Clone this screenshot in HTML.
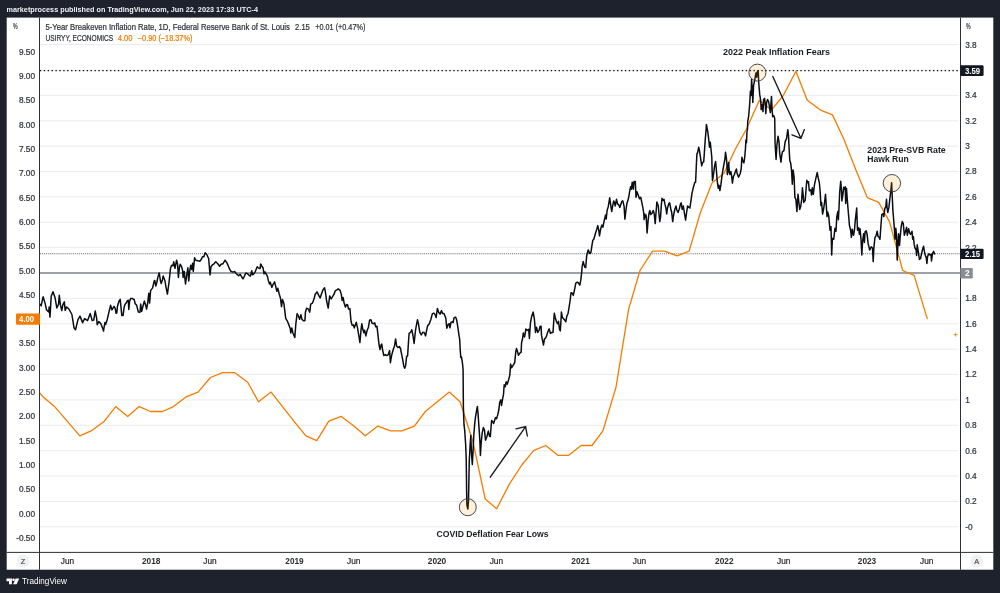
<!DOCTYPE html><html><head><meta charset="utf-8"><title>TradingView chart</title>
<style>html,body{margin:0;padding:0;background:#1e222d;overflow:hidden}svg{display:block;will-change:transform}text{font-family:"Liberation Sans",sans-serif}</style></head><body>
<svg width="1000" height="593" viewBox="0 0 1000 593">
<rect x="0" y="0" width="1000" height="593" fill="#1e222d"/>
<rect x="6.7" y="17.6" width="986.6" height="552.1" fill="#ffffff"/>
<defs><clipPath id="pane"><rect x="40.0" y="17.6" width="920.0" height="534.8"/></clipPath></defs>
<line x1="40.0" x2="958.5" y1="526.80" y2="526.80" stroke="#ebebeb" stroke-width="1"/>
<line x1="40.0" x2="958.5" y1="501.42" y2="501.42" stroke="#ebebeb" stroke-width="1"/>
<line x1="40.0" x2="958.5" y1="476.04" y2="476.04" stroke="#ebebeb" stroke-width="1"/>
<line x1="40.0" x2="958.5" y1="450.67" y2="450.67" stroke="#ebebeb" stroke-width="1"/>
<line x1="40.0" x2="958.5" y1="425.29" y2="425.29" stroke="#ebebeb" stroke-width="1"/>
<line x1="40.0" x2="958.5" y1="399.91" y2="399.91" stroke="#ebebeb" stroke-width="1"/>
<line x1="40.0" x2="958.5" y1="374.53" y2="374.53" stroke="#ebebeb" stroke-width="1"/>
<line x1="40.0" x2="958.5" y1="349.15" y2="349.15" stroke="#ebebeb" stroke-width="1"/>
<line x1="40.0" x2="958.5" y1="323.78" y2="323.78" stroke="#ebebeb" stroke-width="1"/>
<line x1="40.0" x2="958.5" y1="298.40" y2="298.40" stroke="#ebebeb" stroke-width="1"/>
<line x1="40.0" x2="958.5" y1="273.02" y2="273.02" stroke="#ebebeb" stroke-width="1"/>
<line x1="40.0" x2="958.5" y1="247.64" y2="247.64" stroke="#ebebeb" stroke-width="1"/>
<line x1="40.0" x2="958.5" y1="222.26" y2="222.26" stroke="#ebebeb" stroke-width="1"/>
<line x1="40.0" x2="958.5" y1="196.89" y2="196.89" stroke="#ebebeb" stroke-width="1"/>
<line x1="40.0" x2="958.5" y1="171.51" y2="171.51" stroke="#ebebeb" stroke-width="1"/>
<line x1="40.0" x2="958.5" y1="146.13" y2="146.13" stroke="#ebebeb" stroke-width="1"/>
<line x1="40.0" x2="958.5" y1="120.75" y2="120.75" stroke="#ebebeb" stroke-width="1"/>
<line x1="40.0" x2="958.5" y1="95.37" y2="95.37" stroke="#ebebeb" stroke-width="1"/>
<line x1="40.0" x2="958.5" y1="70.00" y2="70.00" stroke="#ebebeb" stroke-width="1"/>
<line x1="40.0" x2="958.5" y1="44.62" y2="44.62" stroke="#ebebeb" stroke-width="1"/>
<line x1="40.0" x2="960.5" y1="272.95" y2="272.95" stroke="#80838c" stroke-width="1.5"/>
<line x1="40.1" x2="960.5" y1="253.7" y2="253.7" stroke="#5d616b" stroke-width="1.1" stroke-dasharray="0.95 1"/>
<line x1="39.85" x2="960.5" y1="70.6" y2="70.6" stroke="#0e1016" stroke-width="1.35" stroke-dasharray="1.4 2.5"/>
<g clip-path="url(#pane)"><polyline points="19.2,392.1 30.1,382.3 43.2,396.9 54.6,406.6 67.2,421.2 79.8,435.8 91.2,430.9 104.3,421.2 115.7,406.6 127.7,416.4 139.1,406.6 150.6,411.5 162.6,411.5 173.4,406.6 186.0,396.9 198.0,392.1 210.5,377.5 222.5,372.6 234.5,372.6 247.7,382.3 258.5,401.8 271.1,392.1 282.5,406.6 293.9,421.2 305.9,435.8 316.8,440.7 328.8,421.2 341.3,416.4 353.9,426.1 365.3,435.8 377.9,426.1 390.4,430.9 401.9,430.9 414.4,426.1 425.3,411.5 437.3,401.8 449.3,392.1 460.1,401.8 472.7,440.7 485.2,499.0 496.7,508.7 509.2,484.4 521.8,465.0 533.8,450.4 545.8,445.5 557.8,455.3 568.6,455.3 581.2,445.5 592.0,445.5 602.9,430.9 616.0,387.2 628.6,309.4 640.0,270.5 652.6,251.1 664.6,251.1 677.1,255.9 689.1,251.1 700.5,212.2 712.0,183.0 724.0,173.3 735.4,149.0 746.2,129.5 759.4,100.3 771.4,110.1 783.3,95.5 795.9,71.2 807.3,100.3 820.5,110.1 832.5,114.9 843.9,139.2 855.3,168.4 867.3,197.6 878.7,202.4 889.6,221.9 902.7,270.5 914.1,275.4 927.4,319.1" fill="none" stroke="#f57c00" stroke-width="1.3" stroke-linejoin="round"/></g>
<path d="M953.6 334.6h4M955.6 332.6v4" stroke="#f57c00" stroke-width="0.8" fill="none"/>
<g clip-path="url(#pane)"><polyline points="39.7,304.9 40.1,304.4 41.1,305.9 43.1,296.8 45.1,303.4 46.6,310.0 48.7,312.0 49.2,306.9 50.0,317.1 51.2,296.3 53.0,291.8 55.2,298.3 56.8,308.0 58.5,304.4 59.3,295.3 60.3,304.4 61.8,310.5 62.8,304.9 64.3,301.9 65.2,310.5 66.4,306.9 68.9,309.0 71.9,314.5 74.0,327.7 75.5,329.7 78.0,319.6 80.0,316.1 82.6,322.6 84.6,318.6 87.6,320.6 90.2,313.5 92.2,320.6 93.7,320.1 95.2,311.0 96.7,318.6 97.2,324.7 98.8,321.6 100.8,323.6 103.0,329.2 103.5,331.1 104.9,322.5 105.6,324.5 107.1,320.0 109.1,311.4 110.6,305.3 111.9,309.9 114.0,306.5 115.2,308.3 116.0,313.2 116.8,312.9 117.4,306.8 118.2,303.8 119.2,300.8 120.2,299.4 121.0,307.3 121.8,315.4 123.1,315.4 124.1,307.3 125.1,304.3 126.5,302.5 127.3,300.8 128.3,300.2 128.8,309.4 129.6,301.5 130.6,298.5 132.2,298.5 134.2,299.7 135.2,303.8 136.6,305.1 138.3,311.9 140.0,312.2 140.7,304.1 141.7,311.4 142.9,306.5 144.3,301.1 145.6,305.1 146.6,309.1 147.6,303.5 148.8,293.2 149.6,303.1 150.6,290.6 152.6,287.9 154.2,280.8 154.8,280.5 155.8,286.1 156.8,282.5 157.8,277.4 159.2,272.9 160.4,280.5 161.2,283.5 162.4,280.0 163.2,275.9 164.9,280.5 165.9,286.6 167.4,294.1 169.0,282.5 170.5,268.3 171.7,265.3 173.0,265.8 173.7,261.8 175.0,268.3 176.6,260.2 177.6,264.3 178.4,277.4 179.4,267.3 180.3,264.3 181.6,266.8 182.6,270.4 183.1,277.4 184.2,271.4 185.5,284.0 186.7,275.4 187.9,267.8 188.7,281.0 189.7,271.4 190.7,265.3 191.7,269.4 192.6,263.3 193.3,271.4 194.6,257.7 195.8,260.2 197.8,260.8 199.8,261.3 201.4,259.2 202.4,256.7 203.9,256.7 205.1,252.7 206.9,254.7 208.7,258.7 210.0,274.9 211.0,266.8 212.5,264.8 214.0,263.8 215.8,261.8 217.8,263.8 219.6,266.3 221.1,264.3 222.9,263.8 225.1,260.2 226.5,262.1 228.0,265.2 229.6,269.2 231.1,271.5 233.1,272.1 234.6,271.5 236.1,273.5 237.7,274.8 238.7,275.8 240.2,274.3 241.7,276.8 243.0,278.9 244.2,276.5 245.8,273.1 247.3,273.5 248.8,275.1 250.3,276.1 251.8,270.8 252.5,274.8 253.8,273.8 255.4,271.3 257.2,266.7 258.9,268.2 260.2,268.4 260.6,264.0 261.9,266.2 263.0,267.7 264.0,273.8 265.0,271.8 266.0,273.8 267.3,275.8 268.3,280.4 269.5,283.9 270.3,282.2 271.8,287.4 273.1,284.4 274.6,281.9 275.6,285.9 276.8,291.3 277.8,288.3 279.1,293.5 280.5,298.4 281.5,306.7 282.5,299.6 283.9,303.6 284.7,310.2 285.7,318.3 287.2,320.8 288.7,324.4 290.2,328.4 290.8,333.0 291.8,327.9 292.8,332.4 294.8,337.5 295.8,324.4 297.1,313.7 298.3,315.8 299.6,319.3 300.9,314.7 301.9,319.3 303.4,320.8 304.9,320.8 305.4,312.2 306.6,308.2 308.5,309.2 309.7,312.2 310.7,304.1 312.5,303.1 314.0,299.1 315.1,294.5 317.0,291.9 318.5,294.9 320.1,298.0 321.6,293.4 323.1,289.4 324.6,287.8 325.6,293.4 326.6,301.0 328.2,308.1 329.7,295.9 331.2,299.0 332.7,296.4 334.2,293.9 335.2,290.9 336.8,289.9 338.3,288.9 340.1,290.4 341.3,294.4 342.1,300.5 343.1,297.4 344.1,303.0 345.4,307.1 346.6,304.5 347.6,305.0 348.6,309.1 349.9,308.6 351.0,321.3 352.2,325.4 353.5,324.9 354.2,327.9 355.5,324.4 356.3,322.3 357.6,328.4 359.1,337.5 359.9,342.6 361.0,330.3 361.8,323.7 362.8,329.3 363.9,332.8 364.6,330.3 365.9,335.9 367.1,330.3 368.3,327.8 369.6,320.2 370.9,319.7 372.1,323.2 373.7,323.7 374.7,322.7 375.7,326.8 377.0,326.3 378.0,335.4 379.0,344.5 380.0,349.5 381.1,345.0 381.8,344.0 382.5,349.5 383.8,355.6 385.3,354.6 386.8,355.6 388.3,354.6 389.6,350.6 390.4,362.7 391.6,355.6 393.2,349.5 394.4,346.5 395.6,338.9 396.6,346.0 398.0,347.5 399.3,346.5 400.5,348.5 401.7,354.6 402.7,359.7 403.7,365.7 404.7,368.3 405.6,365.7 406.6,356.6 407.6,355.6 408.6,340.4 409.1,333.3 410.6,332.3 411.8,329.8 412.8,334.4 414.1,343.5 415.5,330.3 416.2,326.3 417.5,319.7 418.7,325.2 419.7,331.8 421.2,334.9 422.8,332.3 424.3,332.8 425.6,335.9 426.3,331.8 427.6,325.8 429.3,323.7 430.9,319.2 432.4,313.6 433.9,313.1 435.4,315.1 436.1,317.6 437.4,308.5 438.7,312.6 440.0,314.1 441.5,310.6 442.5,313.6 444.0,313.6 445.8,318.2 446.8,328.3 448.1,324.7 449.3,323.7 449.9,327.8 451.1,322.2 452.6,321.7 453.1,322.7 454.1,317.6 455.6,317.1 456.7,320.1 458.0,328.2 459.0,335.3 459.7,339.4 460.2,349.5 460.8,357.6 461.5,357.1 462.5,363.6 463.1,369.7 463.2,385.2 463.4,407.5 464.0,424.7 464.7,430.1 465.7,445.3 466.2,458.5 466.5,479.7 466.6,490.2 466.9,505.4 467.9,509.0 468.5,500.4 468.8,485.2 469.0,475.0 469.3,460.5 470.1,445.3 470.8,435.2 471.5,453.4 472.3,464.5 473.1,450.4 473.8,435.2 474.6,425.1 475.4,417.6 476.6,410.5 477.4,406.5 478.2,415.6 478.8,424.7 479.2,430.1 479.9,441.3 480.4,455.4 481.2,442.3 482.2,433.2 483.3,427.6 484.5,430.1 485.5,440.2 487.0,436.2 488.3,431.1 489.5,436.2 490.3,436.5 491.0,428.0 491.6,420.5 492.6,421.7 493.6,423.5 494.8,419.7 495.6,417.6 496.6,418.6 497.8,414.6 498.9,409.5 499.7,402.4 500.9,399.9 501.5,405.5 502.7,398.4 503.5,394.4 504.2,384.7 505.2,386.8 506.2,381.7 507.2,384.2 508.6,379.7 509.8,375.1 510.6,364.1 511.7,367.7 512.9,365.7 514.7,362.6 515.8,351.6 516.5,348.6 517.5,351.6 518.5,355.2 519.9,353.1 521.1,352.1 521.6,342.5 522.6,338.5 523.3,332.9 524.6,336.9 525.9,328.9 527.1,330.4 528.7,329.4 529.4,338.5 530.4,323.3 531.7,316.2 533.2,312.1 534.4,319.2 535.5,332.4 536.5,327.3 537.8,332.4 539.1,330.4 540.1,326.3 541.1,326.3 541.5,335.4 542.8,341.5 543.5,345.0 544.5,339.0 545.9,337.4 546.6,335.9 547.6,332.4 549.2,328.9 550.4,333.4 551.9,332.4 553.0,332.4 553.7,321.8 554.3,313.2 555.3,317.7 556.5,321.8 557.7,323.8 558.5,321.3 559.5,329.4 560.3,330.9 561.0,320.2 561.4,312.1 562.4,317.7 563.6,318.7 564.8,320.2 565.8,321.8 566.8,316.2 568.1,313.2 569.1,307.1 570.2,300.0 571.0,292.8 572.3,293.3 573.3,295.4 574.5,289.8 575.8,283.2 577.4,282.2 578.6,283.2 579.8,285.2 580.8,280.2 581.8,271.1 582.1,266.6 583.2,261.6 584.7,267.1 585.7,267.6 586.7,255.5 588.2,249.9 589.7,253.5 590.8,253.0 591.8,246.4 592.8,240.3 593.8,239.3 595.3,233.7 596.8,229.2 597.8,225.6 598.9,231.2 599.5,235.8 600.6,229.2 601.9,225.1 602.9,227.2 604.4,219.6 605.6,215.0 606.2,219.1 607.1,210.5 608.2,206.9 609.7,197.8 610.7,204.9 611.7,211.5 612.7,205.9 613.7,200.9 614.7,203.4 615.2,205.9 616.5,199.3 617.5,203.9 618.8,204.9 619.8,207.4 620.8,204.4 621.8,201.4 622.8,200.9 624.1,206.4 624.9,219.1 625.9,210.5 626.9,203.4 628.4,198.8 629.9,190.2 630.6,186.7 631.4,189.2 632.2,182.2 633.3,189.2 634.0,181.6 635.3,181.6 636.0,197.3 637.0,191.8 638.3,195.3 639.5,198.8 640.8,197.3 641.8,202.4 642.8,207.4 643.8,213.5 644.1,219.6 644.8,214.0 645.4,217.6 646.1,215.0 647.1,233.0 648.1,220.6 649.1,212.5 649.9,210.5 650.7,214.5 651.9,213.5 653.2,210.5 654.2,213.5 655.2,223.6 656.2,210.5 656.9,201.9 658.3,205.9 659.0,214.5 659.8,221.6 660.6,216.6 661.3,205.4 662.0,198.3 663.0,200.4 664.0,199.3 665.0,204.4 666.0,208.5 666.7,214.0 667.4,208.5 668.7,203.9 669.7,202.9 670.7,208.5 671.7,212.5 672.7,221.6 673.7,214.5 674.8,209.5 676.0,205.9 676.8,210.0 678.0,212.5 679.2,209.5 680.5,203.9 681.2,202.9 682.2,209.5 683.3,205.9 684.3,212.5 685.6,220.1 686.6,212.5 687.6,205.9 688.9,207.4 689.9,208.0 691.0,200.4 692.0,193.3 693.4,187.2 694.7,182.7 695.6,182.1 696.3,166.4 696.9,153.8 697.6,152.8 698.7,147.2 699.7,151.8 700.7,158.8 701.7,165.9 702.7,162.4 703.7,161.9 704.4,152.3 705.2,140.1 706.0,131.0 706.4,124.5 707.8,132.0 708.8,140.1 709.5,147.2 710.3,142.2 711.1,150.2 711.8,157.3 712.1,170.5 712.5,180.6 713.5,174.5 714.5,166.4 715.6,161.4 716.4,170.5 717.2,180.6 718.2,188.2 718.9,185.2 719.9,190.5 720.9,184.7 721.9,176.6 723.0,169.5 724.0,163.9 725.0,158.3 725.5,152.3 726.3,157.3 727.0,164.9 727.3,174.5 728.0,170.5 728.7,162.4 729.3,172.5 730.0,174.5 730.8,171.5 731.6,175.6 732.4,183.1 733.4,176.6 734.4,174.5 735.4,171.5 736.4,169.0 737.1,173.5 738.6,177.1 740.2,173.5 741.2,169.0 741.9,157.3 742.9,161.4 743.9,162.9 744.7,157.3 745.5,148.2 745.9,140.1 746.5,142.7 746.9,133.0 747.5,129.0 747.7,121.7 748.6,116.7 749.6,105.5 750.4,91.3 751.1,95.4 751.6,79.2 752.4,91.3 752.8,102.5 753.6,85.3 754.7,80.2 755.9,73.1 756.7,77.2 757.2,72.1 758.2,70.6 758.7,82.2 759.7,94.4 760.7,100.5 761.2,109.6 762.2,104.5 763.0,111.6 763.6,99.5 764.6,98.4 765.3,104.5 765.8,113.6 766.6,102.5 767.6,99.5 768.6,101.5 769.6,107.5 770.3,112.6 770.9,104.5 771.5,96.4 772.1,109.6 772.7,116.7 773.7,115.6 774.7,118.2 774.9,130.2 775.1,144.3 776.1,159.5 776.9,145.4 778.0,136.3 779.0,141.3 779.7,153.5 781.0,162.1 781.7,155.5 782.4,151.9 784.0,150.4 785.2,141.3 786.5,138.8 787.8,129.7 788.5,135.2 789.1,148.4 789.8,160.6 790.8,163.6 791.6,171.1 792.3,184.2 793.1,170.1 794.1,177.2 794.9,197.4 795.9,199.4 796.9,211.6 798.0,194.3 799.0,203.5 799.7,209.5 800.7,206.5 801.7,199.4 802.4,187.8 803.2,195.4 803.7,202.4 805.2,200.4 806.0,190.3 806.8,180.2 807.8,182.7 808.5,181.7 809.3,190.8 810.8,189.8 811.5,194.9 812.3,187.8 813.3,194.3 814.5,184.7 815.9,178.2 817.2,172.6 818.4,178.7 819.4,183.2 820.2,192.3 820.9,205.5 821.6,202.4 822.6,214.1 823.7,208.5 824.7,201.4 825.5,194.3 826.3,205.5 827.0,216.6 827.7,212.1 828.7,215.6 830.0,230.2 831.0,226.7 831.7,255.0 832.4,238.3 833.7,239.3 835.0,228.2 836.0,231.3 836.8,216.6 837.8,211.6 838.4,219.7 839.1,205.5 839.7,192.3 840.7,181.2 841.5,190.3 841.9,200.9 842.9,194.3 843.7,187.3 844.7,189.3 845.2,186.8 845.7,203.5 846.5,188.3 847.2,198.4 848.0,208.5 848.8,217.6 849.4,225.2 850.6,230.2 851.4,237.3 852.2,229.2 853.5,235.3 854.5,229.7 855.3,220.1 856.7,208.0 857.0,217.1 857.5,230.2 858.7,227.7 859.3,234.3 860.0,228.7 861.0,239.3 861.8,255.0 862.6,241.4 863.6,233.8 864.4,242.4 865.1,231.8 866.1,230.8 867.1,234.3 868.1,243.4 869.7,250.0 871.2,246.9 872.5,248.0 873.2,261.6 873.9,247.4 874.9,237.8 876.2,235.3 877.2,231.3 878.0,236.3 879.0,237.3 880.0,239.3 880.8,227.2 881.8,214.5 883.1,213.5 883.8,216.6 884.8,208.5 885.8,206.9 886.5,199.3 887.1,208.0 887.8,212.5 888.9,207.4 889.9,198.3 890.9,190.2 891.6,182.7 892.2,195.3 892.9,210.5 893.9,222.6 894.5,230.2 895.0,239.3 895.8,228.2 896.5,235.3 897.2,260.1 898.0,243.4 898.6,233.8 899.5,245.4 900.2,236.3 901.2,226.7 902.2,221.6 903.3,223.7 904.3,235.3 905.3,232.3 906.6,227.2 907.3,235.3 908.6,228.7 909.6,232.8 910.6,234.3 912.0,231.3 912.7,239.3 913.4,236.8 914.2,244.4 915.0,248.0 916.1,249.9 916.6,255.4 917.2,244.8 918.1,250.4 919.4,259.5 920.6,258.5 921.6,253.4 922.6,249.3 923.6,246.3 924.4,251.4 925.4,255.9 926.2,257.4 926.9,263.5 927.6,256.4 928.7,253.9 930.0,254.9 931.0,254.4 931.5,261.0 932.5,253.4 933.7,251.4 934.5,253.9" fill="none" stroke="#0b0d14" stroke-width="1.5" stroke-linejoin="round" stroke-linecap="round"/></g>
<circle cx="757.4" cy="72.6" r="8.5" fill="#ff9800" fill-opacity="0.145" stroke="#33363f" stroke-width="0.9"/>
<circle cx="891.9" cy="183.2" r="8.7" fill="#ff9800" fill-opacity="0.145" stroke="#33363f" stroke-width="0.9"/>
<circle cx="467.8" cy="507.2" r="8.5" fill="#ff9800" fill-opacity="0.145" stroke="#33363f" stroke-width="0.9"/>
<g stroke="#14161d" stroke-width="1.35" fill="none" stroke-linecap="round"><path d="M772.8 76.5L800.9 138.3M792 134.8L800.9 138.3L804.4 129.6"/><path d="M490.3 477.2L525.6 426.6M516 428.8L525.6 426.6L527.3 436"/></g>
<line x1="39.5" x2="39.5" y1="17.6" y2="569.7" stroke="#2c303a" stroke-width="1.0"/>
<line x1="960.5" x2="960.5" y1="17.6" y2="569.7" stroke="#2c303a" stroke-width="1.0"/>
<line x1="6.7" x2="993.3" y1="552.4" y2="552.4" stroke="#2c303a" stroke-width="1.0"/>
<text x="6.5" y="12.4" font-size="7.3" fill="#f0f1f4" font-weight="bold" textLength="251.5" lengthAdjust="spacingAndGlyphs">marketprocess published on TradingView.com, Jun 22, 2023 17:33 UTC-4</text>
<text x="45.5" y="29.7" font-size="8.3" fill="#30333b" stroke="#30333b" stroke-width="0.22" textLength="244.4" lengthAdjust="spacingAndGlyphs">5-Year Breakeven Inflation Rate, 1D, Federal Reserve Bank of St. Louis</text>
<text x="295.1" y="29.7" font-size="8.3" fill="#30333b" stroke="#30333b" stroke-width="0.22" textLength="14.7" lengthAdjust="spacingAndGlyphs">2.15</text>
<text x="315.3" y="29.7" font-size="8.3" fill="#30333b" stroke="#30333b" stroke-width="0.22" textLength="50" lengthAdjust="spacingAndGlyphs">+0.01 (+0.47%)</text>
<text x="45.5" y="40.6" font-size="8.3" fill="#30333b" stroke="#30333b" stroke-width="0.22" textLength="67.6" lengthAdjust="spacingAndGlyphs">USIRYY, ECONOMICS</text>
<text x="117.7" y="40.6" font-size="8.3" fill="#f57c00" stroke="#f57c00" stroke-width="0.22" textLength="14.9" lengthAdjust="spacingAndGlyphs">4.00</text>
<text x="137.8" y="40.6" font-size="8.3" fill="#f57c00" stroke="#f57c00" stroke-width="0.22" textLength="54.6" lengthAdjust="spacingAndGlyphs">−0.90 (−18.37%)</text>
<text x="13" y="28.8" font-size="8.3" fill="#30333b" stroke="#30333b" stroke-width="0.22" textLength="4.6" lengthAdjust="spacingAndGlyphs">%</text>
<text x="35.1" y="540.9" font-size="8.3" fill="#30333b" text-anchor="end" stroke="#30333b" stroke-width="0.22">-0.50</text>
<text x="35.1" y="516.6" font-size="8.3" fill="#30333b" text-anchor="end" stroke="#30333b" stroke-width="0.22">0.00</text>
<text x="35.1" y="492.3" font-size="8.3" fill="#30333b" text-anchor="end" stroke="#30333b" stroke-width="0.22">0.50</text>
<text x="35.1" y="468.0" font-size="8.3" fill="#30333b" text-anchor="end" stroke="#30333b" stroke-width="0.22">1.00</text>
<text x="35.1" y="443.7" font-size="8.3" fill="#30333b" text-anchor="end" stroke="#30333b" stroke-width="0.22">1.50</text>
<text x="35.1" y="419.4" font-size="8.3" fill="#30333b" text-anchor="end" stroke="#30333b" stroke-width="0.22">2.00</text>
<text x="35.1" y="395.1" font-size="8.3" fill="#30333b" text-anchor="end" stroke="#30333b" stroke-width="0.22">2.50</text>
<text x="35.1" y="370.7" font-size="8.3" fill="#30333b" text-anchor="end" stroke="#30333b" stroke-width="0.22">3.00</text>
<text x="35.1" y="346.4" font-size="8.3" fill="#30333b" text-anchor="end" stroke="#30333b" stroke-width="0.22">3.50</text>
<text x="35.1" y="297.8" font-size="8.3" fill="#30333b" text-anchor="end" stroke="#30333b" stroke-width="0.22">4.50</text>
<text x="35.1" y="273.5" font-size="8.3" fill="#30333b" text-anchor="end" stroke="#30333b" stroke-width="0.22">5.00</text>
<text x="35.1" y="249.2" font-size="8.3" fill="#30333b" text-anchor="end" stroke="#30333b" stroke-width="0.22">5.50</text>
<text x="35.1" y="224.9" font-size="8.3" fill="#30333b" text-anchor="end" stroke="#30333b" stroke-width="0.22">6.00</text>
<text x="35.1" y="200.6" font-size="8.3" fill="#30333b" text-anchor="end" stroke="#30333b" stroke-width="0.22">6.50</text>
<text x="35.1" y="176.3" font-size="8.3" fill="#30333b" text-anchor="end" stroke="#30333b" stroke-width="0.22">7.00</text>
<text x="35.1" y="152.0" font-size="8.3" fill="#30333b" text-anchor="end" stroke="#30333b" stroke-width="0.22">7.50</text>
<text x="35.1" y="127.6" font-size="8.3" fill="#30333b" text-anchor="end" stroke="#30333b" stroke-width="0.22">8.00</text>
<text x="35.1" y="103.3" font-size="8.3" fill="#30333b" text-anchor="end" stroke="#30333b" stroke-width="0.22">8.50</text>
<text x="35.1" y="79.0" font-size="8.3" fill="#30333b" text-anchor="end" stroke="#30333b" stroke-width="0.22">9.00</text>
<text x="35.1" y="54.7" font-size="8.3" fill="#30333b" text-anchor="end" stroke="#30333b" stroke-width="0.22">9.50</text>
<path d="M39.9 313.4H17.3a1.3 1.3 0 0 0 -1.3 1.3v8.8a1.3 1.3 0 0 0 1.3 1.3H39.9z" fill="#f57c00"/>
<text x="19.1" y="321.9" font-size="8.3" fill="#ffffff" font-weight="bold" textLength="15" lengthAdjust="spacingAndGlyphs">4.00</text>
<text x="965.9" y="28.8" font-size="8.3" fill="#30333b" stroke="#30333b" stroke-width="0.22" textLength="4.6" lengthAdjust="spacingAndGlyphs">%</text>
<text x="965.2" y="529.7" font-size="8.3" fill="#30333b" stroke="#30333b" stroke-width="0.22">-0</text>
<text x="965.2" y="504.3" font-size="8.3" fill="#30333b" stroke="#30333b" stroke-width="0.22">0.2</text>
<text x="965.2" y="478.9" font-size="8.3" fill="#30333b" stroke="#30333b" stroke-width="0.22">0.4</text>
<text x="965.2" y="453.6" font-size="8.3" fill="#30333b" stroke="#30333b" stroke-width="0.22">0.6</text>
<text x="965.2" y="428.2" font-size="8.3" fill="#30333b" stroke="#30333b" stroke-width="0.22">0.8</text>
<text x="965.2" y="402.8" font-size="8.3" fill="#30333b" stroke="#30333b" stroke-width="0.22">1</text>
<text x="965.2" y="377.4" font-size="8.3" fill="#30333b" stroke="#30333b" stroke-width="0.22">1.2</text>
<text x="965.2" y="352.1" font-size="8.3" fill="#30333b" stroke="#30333b" stroke-width="0.22">1.4</text>
<text x="965.2" y="326.7" font-size="8.3" fill="#30333b" stroke="#30333b" stroke-width="0.22">1.6</text>
<text x="965.2" y="301.3" font-size="8.3" fill="#30333b" stroke="#30333b" stroke-width="0.22">1.8</text>
<text x="965.2" y="250.5" font-size="8.3" fill="#30333b" stroke="#30333b" stroke-width="0.22">2.2</text>
<text x="965.2" y="225.2" font-size="8.3" fill="#30333b" stroke="#30333b" stroke-width="0.22">2.4</text>
<text x="965.2" y="199.8" font-size="8.3" fill="#30333b" stroke="#30333b" stroke-width="0.22">2.6</text>
<text x="965.2" y="174.4" font-size="8.3" fill="#30333b" stroke="#30333b" stroke-width="0.22">2.8</text>
<text x="965.2" y="149.0" font-size="8.3" fill="#30333b" stroke="#30333b" stroke-width="0.22">3</text>
<text x="965.2" y="123.7" font-size="8.3" fill="#30333b" stroke="#30333b" stroke-width="0.22">3.2</text>
<text x="965.2" y="98.3" font-size="8.3" fill="#30333b" stroke="#30333b" stroke-width="0.22">3.4</text>
<text x="965.2" y="72.9" font-size="8.3" fill="#30333b" stroke="#30333b" stroke-width="0.22">3.6</text>
<text x="965.2" y="47.5" font-size="8.3" fill="#30333b" stroke="#30333b" stroke-width="0.22">3.8</text>
<path d="M960.3 65.2H982.4a1.2 1.2 0 0 1 1.2 1.2V74.7a1.2 1.2 0 0 1 -1.2 1.2H960.3z" fill="#131722"/>
<text x="964.9" y="73.9" font-size="8.3" fill="#ffffff" font-weight="bold" textLength="15.2" lengthAdjust="spacingAndGlyphs">3.59</text>
<path d="M960.3 248.8H982.4a1.2 1.2 0 0 1 1.2 1.2V257.8a1.2 1.2 0 0 1 -1.2 1.2H960.3z" fill="#131722"/>
<text x="965.1" y="256.6" font-size="8.3" fill="#ffffff" font-weight="bold" textLength="15" lengthAdjust="spacingAndGlyphs">2.15</text>
<path d="M960.3 268.1H971.5999999999999a1.2 1.2 0 0 1 1.2 1.2V277.3a1.2 1.2 0 0 1 -1.2 1.2H960.3z" fill="#8a8d94"/>
<text x="965.1" y="275.9" font-size="8.3" fill="#ffffff" font-weight="bold">2</text>
<text x="67.5" y="564.0" font-size="8.3" fill="#2a2d35" text-anchor="middle" stroke="#2a2d35" stroke-width="0.22">Jun</text>
<text x="151.2" y="564.0" font-size="8.3" fill="#2a2d35" font-weight="bold" text-anchor="middle">2018</text>
<text x="210" y="564.0" font-size="8.3" fill="#2a2d35" text-anchor="middle" stroke="#2a2d35" stroke-width="0.22">Jun</text>
<text x="294.5" y="564.0" font-size="8.3" fill="#2a2d35" font-weight="bold" text-anchor="middle">2019</text>
<text x="353.7" y="564.0" font-size="8.3" fill="#2a2d35" text-anchor="middle" stroke="#2a2d35" stroke-width="0.22">Jun</text>
<text x="437" y="564.0" font-size="8.3" fill="#2a2d35" font-weight="bold" text-anchor="middle">2020</text>
<text x="496.4" y="564.0" font-size="8.3" fill="#2a2d35" text-anchor="middle" stroke="#2a2d35" stroke-width="0.22">Jun</text>
<text x="580.6" y="564.0" font-size="8.3" fill="#2a2d35" font-weight="bold" text-anchor="middle">2021</text>
<text x="639.5" y="564.0" font-size="8.3" fill="#2a2d35" text-anchor="middle" stroke="#2a2d35" stroke-width="0.22">Jun</text>
<text x="724.3" y="564.0" font-size="8.3" fill="#2a2d35" font-weight="bold" text-anchor="middle">2022</text>
<text x="783.7" y="564.0" font-size="8.3" fill="#2a2d35" text-anchor="middle" stroke="#2a2d35" stroke-width="0.22">Jun</text>
<text x="867" y="564.0" font-size="8.3" fill="#2a2d35" font-weight="bold" text-anchor="middle">2023</text>
<text x="926.8" y="564.0" font-size="8.3" fill="#2a2d35" text-anchor="middle" stroke="#2a2d35" stroke-width="0.22">Jun</text>
<circle cx="23.1" cy="560.9" r="6.5" fill="#f0f1f3"/>
<text x="23.1" y="563.6" font-size="7.4" fill="#50535e" text-anchor="middle" stroke="#50535e" stroke-width="0.22">Z</text>
<circle cx="976.6" cy="560.9" r="6.5" fill="#f0f1f3"/>
<text x="976.6" y="563.6" font-size="7.4" fill="#50535e" text-anchor="middle" stroke="#50535e" stroke-width="0.22">A</text>
<text x="723.1" y="54.8" font-size="8.4" fill="#1b1d24" font-weight="bold" textLength="107" lengthAdjust="spacingAndGlyphs">2022 Peak Inflation Fears</text>
<text x="867.3" y="152.8" font-size="8.4" fill="#1b1d24" font-weight="bold" textLength="78.4" lengthAdjust="spacingAndGlyphs">2023 Pre-SVB Rate</text>
<text x="867.3" y="161.5" font-size="8.4" fill="#1b1d24" font-weight="bold" textLength="41.5" lengthAdjust="spacingAndGlyphs">Hawk Run</text>
<text x="436.5" y="536.6" font-size="8.4" fill="#1b1d24" font-weight="bold" textLength="112" lengthAdjust="spacingAndGlyphs">COVID Deflation Fear Lows</text>
<g fill="#ffffff"><path d="M6.5 578.4h5.4v5.9h-2.9v-3.1h-2.5z"/><circle cx="13.5" cy="579.7" r="1.3"/><path d="M15.6 578.4h3.6l-2.6 5.9h-3.4z"/></g>
<text x="22.1" y="584.3" font-size="8.6" fill="#ffffff" textLength="44.8" lengthAdjust="spacingAndGlyphs">TradingView</text>
</svg></body></html>
